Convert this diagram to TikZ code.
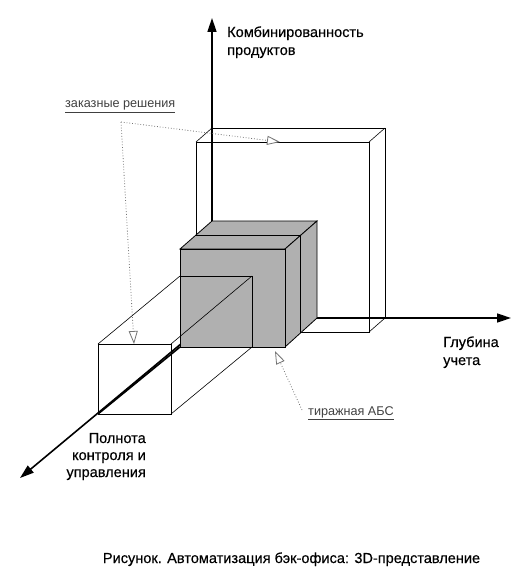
\documentclass[tikz,border=0pt]{standalone}
\usepackage{fontspec}
\setmainfont{Liberation Sans}
\newfontfamily\axfont[FakeBold=0.35]{Liberation Sans}
\usetikzlibrary{arrows.meta}
\begin{document}
\begin{tikzpicture}[x=1bp,y=-1bp,
  axisline/.style={line width=1.6bp,-{Triangle[length=14bp,width=9bp]}},
  boxline/.style={line width=0.6bp},
  blockline/.style={line width=0.8bp},
  leader/.style={dotted,black!55,line width=0.8bp,-{Triangle[open,length=13bp,width=9bp,fill=white]}},
  axlabel/.style={font=\axfont\fontsize{14.6}{18}\selectfont,inner sep=0},
  note/.style={font=\fontsize{12.7}{16}\selectfont,text=black!75,inner sep=0},
  blockfill/.style={fill=black!31}]
\useasboundingbox (0,0) rectangle (530,580);
% key points
\coordinate (O) at (212,318);
\coordinate (Ytip) at (212,18);
\coordinate (Xtip) at (511,318);
\coordinate (Ztip) at (20,478);
% axes
\draw[axisline] (O) -- (Ytip);
\draw[axisline] (O) -- (Xtip);
\draw[axisline] (O) -- (Ztip);
% big frame (back face, front face)
\coordinate (Fb1) at (212,128); \coordinate (Fb2) at (385,128);
\coordinate (Fb3) at (385,318); \coordinate (Fb4) at (212,318);
\coordinate (Ff1) at (196,142); \coordinate (Ff2) at (369,142);
\coordinate (Ff3) at (369,332); \coordinate (Ff4) at (196,332);
\draw[boxline] (Fb1) -- (Fb2) -- (Fb3) -- (Fb4) -- cycle;
\draw[boxline] (Ff1) -- (Ff2) -- (Ff3) -- (Ff4) -- cycle;
\draw[boxline] (Ff1) -- (Fb1) (Ff2) -- (Fb2) (Ff3) -- (Fb3);
% gray block
\coordinate (G1) at (180,249); \coordinate (G2) at (285,249);
\coordinate (G3) at (285,347); \coordinate (G4) at (180,347);
\coordinate (H1) at (212,221); \coordinate (H2) at (317,221);
\coordinate (H3) at (317,318);
\coordinate (M1) at (196,235); \coordinate (M2) at (300,235);
\coordinate (M3) at (300,333);
\filldraw[blockfill,blockline] (G1) -- (H1) -- (H2) -- (G2) -- cycle;
\filldraw[blockfill,blockline] (G2) -- (H2) -- (H3) -- (G3) -- cycle;
\filldraw[blockfill,blockline] (G1) -- (G2) -- (G3) -- (G4) -- cycle;
\draw[blockline] (M1) -- (M2) -- (M3);
% long box (front face + back face on the block)
\coordinate (L1) at (98,344); \coordinate (L2) at (171,344);
\coordinate (L3) at (171,414); \coordinate (L4) at (98,414);
\coordinate (K1) at (180,276); \coordinate (K2) at (252,276);
\coordinate (K3) at (252,347); \coordinate (K4) at (180,347);
\draw[blockline] (K1) -- (K2) -- (K3);
\draw[boxline] (L1) -- (L2) -- (L3) -- (L4) -- cycle;
\draw[boxline] (L1) -- (K1) (L2) -- (K2) (L3) -- (K3);
\draw[line width=1.6bp] (K4) -- (L4);
% leaders
\coordinate (Cz) at (121,122);
\coordinate (Az1) at (280,142);
\coordinate (Az2) at (134,344);
\coordinate (Ct) at (302,410);
\coordinate (At) at (275,351);
\draw[leader] (Cz) -- (Az1);
\draw[leader] (Cz) -- (Az2);
\draw[leader] (Ct) -- (At);
% labels
\node[note,anchor=base west] (zr) at (65,108) {\underline{заказные решения}};
\node[note,anchor=base west] (ta) at (308,415) {\underline{тиражная АБС}};
\node[axlabel,anchor=base west] (y1) at (227,37) {Комбинированность};
\node[axlabel,anchor=base west] (y2) at (227,55) {продуктов};
\node[axlabel,anchor=base west] (x1) at (443,347) {Глубина};
\node[axlabel,anchor=base west] (x2) at (443,365) {учета};
\node[axlabel,anchor=base east] (z1) at (146,443) {Полнота};
\node[axlabel,anchor=base east] (z2) at (146,460) {контроля и};
\node[axlabel,anchor=base east] (z3) at (146,477) {управления};
\node[axlabel,anchor=base] (cap) at (291.5,563) {Рисунок. Автоматизация бэк-офиса: 3D-представление};
\end{tikzpicture}
\end{document}
